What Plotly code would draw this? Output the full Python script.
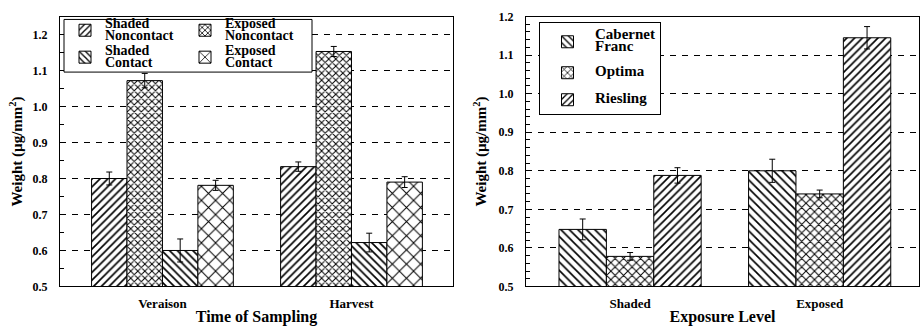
import plotly.graph_objects as go

# ---------------- data: left panel (Time of Sampling) ----------------
sampling_times = ["Veraison", "Harvest"]
shaded_noncontact = [0.800, 0.833]
shaded_noncontact_err = [0.018, 0.013]
exposed_noncontact = [1.072, 1.153]
exposed_noncontact_err = [0.020, 0.014]
shaded_contact = [0.600, 0.622]
shaded_contact_err = [0.032, 0.026]
exposed_contact = [0.781, 0.790]
exposed_contact_err = [0.014, 0.015]

# ---------------- data: right panel (Exposure Level) ----------------
exposure_levels = ["Shaded", "Exposed"]
cabernet_franc = [0.648, 0.800]
cabernet_franc_err = [0.027, 0.030]
optima = [0.578, 0.740]
optima_err = [0.010, 0.010]
riesling = [0.788, 1.145]
riesling_err = [0.020, 0.029]

FONT = "Liberation Serif"
W, H = 920, 326


def lg(*lines, size=14):
    return "<br>".join(f'<span style="font-size:{size}px">{t}</span>' for t in lines)


def bar(x, y, err, name, shape, psize, solid, xa, ya, legend, group=None):
    return go.Bar(
        x=x, y=y, name=name, xaxis=xa, yaxis=ya, legend=legend,
        legendgroup=group,
        marker=dict(color="white", line=dict(color="black", width=1),
                    pattern=dict(shape=shape, size=psize, solidity=solid,
                                 fgcolor="black", bgcolor="white", fillmode="replace")),
        error_y=dict(type="data", array=err, color="black", thickness=1, width=3),
    )


fig = go.Figure()
fig.add_trace(bar(sampling_times, shaded_noncontact, shaded_noncontact_err,
                  lg("Shaded", "Noncontact"), "/", 5.5, 0.3, "x", "y", "legend"))
fig.add_trace(bar(sampling_times, exposed_noncontact, exposed_noncontact_err,
                  lg("Exposed", "Noncontact"), "x", 5.0, 0.36, "x", "y", "legend2"))
fig.add_trace(bar(sampling_times, shaded_contact, shaded_contact_err,
                  lg("Shaded", "Contact"), "\\", 5.5, 0.3, "x", "y", "legend"))
fig.add_trace(bar(sampling_times, exposed_contact, exposed_contact_err,
                  lg("Exposed", "Contact"), "x", 10.0, 0.19, "x", "y", "legend2"))

fig.add_trace(bar(exposure_levels, cabernet_franc, cabernet_franc_err,
                  lg("Cabernet", "Franc", size=15), "\\", 6.0, 0.28, "x2", "y2", "legend3", "cf"))
fig.add_trace(bar(exposure_levels, optima, optima_err,
                  lg("Optima", size=15), "x", 6.0, 0.3, "x2", "y2", "legend3", "op"))
fig.add_trace(bar(exposure_levels, riesling, riesling_err,
                  lg("Riesling", size=15), "/", 5.5, 0.3, "x2", "y2", "legend3", "ri"))

ydom = [(H - 292) / H, (H - 10) / H]
axfont = dict(family=FONT, size=12, color="black", weight="bold")

common_y = dict(
    showline=True, linecolor="black", linewidth=1, mirror=True,
    ticks="inside", ticklen=6, tickcolor="black", dtick=0.1, tickformat=".1f",
    tickfont=axfont, showgrid=True, gridcolor="black", gridwidth=1, griddash="6px,6px",
    zeroline=False, domain=ydom, ticklabelstandoff=9,
)
common_x = dict(
    showline=True, linecolor="black", linewidth=1, mirror=True, ticks="",
    showgrid=False, zeroline=False, type="category", ticklabelstandoff=5,
    tickfont=dict(family=FONT, size=13, color="black", weight="bold"),
)
title_x = dict(family=FONT, size=16, color="black", weight="bold")
title_y = dict(family=FONT, size=15, color="black", weight="bold")

fig.update_layout(
    width=W, height=H, autosize=False,
    margin=dict(l=0, r=0, t=0, b=0),
    paper_bgcolor="white", plot_bgcolor="white",
    barmode="group", bargap=0.25, bargroupgap=0,
    font=dict(family=FONT, color="black"),
    xaxis=dict(common_x, domain=[60 / W, 453 / W], range=[-0.542, 1.537], anchor="y",
               title=dict(text="Time of Sampling", font=title_x, standoff=4)),
    yaxis=dict(common_y, range=[0.5, 1.25], anchor="x",
               minor=dict(dtick=0.05, ticks="inside", ticklen=4, tickcolor="black", showgrid=False),
               title=dict(text="Weight (µg/mm<sup>2</sup>)", font=title_y, standoff=6)),
    xaxis2=dict(common_x, domain=[526 / W, 919 / W], range=[-0.549, 1.524], anchor="y2",
                title=dict(text="Exposure Level", font=title_x, standoff=4)),
    yaxis2=dict(common_y, range=[0.5, 1.2], anchor="x2",
                minor=dict(dtick=0.02, ticks="inside", ticklen=4, tickcolor="black", showgrid=False),
                title=dict(text="Weight (µg/mm<sup>2</sup>)", font=title_y, standoff=8)),
    legend=dict(x=65 / W, y=(H - 5) / H, xanchor="left", yanchor="top",
                bgcolor="rgba(0,0,0,0)", borderwidth=0,
                font=dict(family=FONT, size=9.2, color="black", weight="bold")),
    legend2=dict(x=185 / W, y=(H - 5) / H, xanchor="left", yanchor="top",
                 bgcolor="rgba(0,0,0,0)", borderwidth=0,
                 font=dict(family=FONT, size=9.2, color="black", weight="bold")),
    legend3=dict(x=539 / W, y=(H - 16) / H, xanchor="left", yanchor="top",
                 bgcolor="white", bordercolor="black", borderwidth=1,
                 tracegroupgap=8, itemwidth=45,
                 font=dict(family=FONT, size=9.2, color="black", weight="bold")),
    shapes=[dict(type="rect", xref="paper", yref="paper",
                 x0=64 / W, x1=312 / W, y0=(H - 68) / H, y1=(H - 13) / H,
                 fillcolor="white", line=dict(color="black", width=1), layer="above")],
)

fig.write_html("out.html", config={"displayModeBar": False},
               post_script="document.body.style.margin='0';")
